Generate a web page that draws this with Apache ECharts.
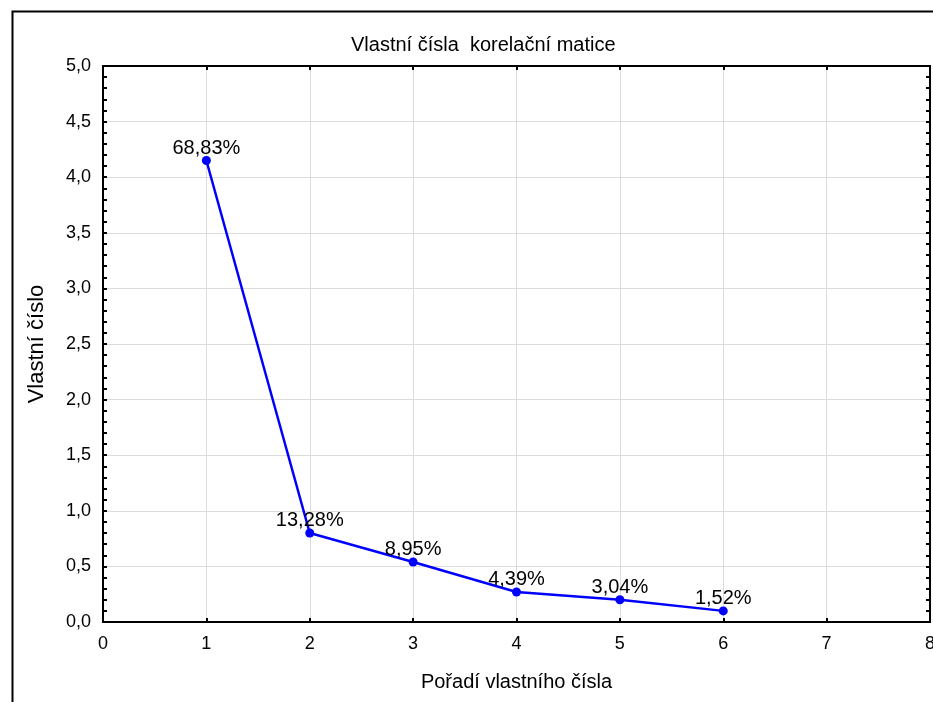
<!DOCTYPE html>
<html>
<head>
<meta charset="utf-8">
<script src="https://cdn.jsdelivr.net/npm/echarts@6/dist/echarts.min.js"></script>
<style>html,body{margin:0;padding:0;background:#fff}#c{width:933px;height:702px}</style>
</head>
<body>
<div id="c"></div>
<script>
const xValues = [1, 2, 3, 4, 5, 6];
const eigenValues = [4.15, 0.80, 0.54, 0.27, 0.20, 0.10];
const percentLabels = ['68,83%', '13,28%', '8,95%', '4,39%', '3,04%', '1,52%'];
const titleText = 'Vlastní čísla  korelační matice';
const xName = 'Pořadí vlastního čísla';
const yName = 'Vlastní číslo';

const FONT = 'Liberation Sans, Arial, sans-serif';
const chart = echarts.init(document.getElementById('c'));
const fmtY = v => v.toFixed(1).replace('.', ',');
const tickStyle = { color: '#000', width: 2 };
chart.setOption({
  animation: false,
  backgroundColor: '#fff',
  title: {
    text: titleText, left: 346, top: 30,
    textStyle: { fontFamily: FONT, fontSize: 20, fontWeight: 'normal', color: '#000' }
  },
  graphic: [{
    type: 'rect', shape: { x: 12.5, y: 11.5, width: 2000, height: 2000 },
    style: { fill: 'none', stroke: '#000', lineWidth: 2 }, silent: true, z: 0
  }],
  grid: {
    left: 103, right: 3, top: 66, bottom: 80, outerBoundsMode: 'none', containLabel: false,
    show: true, borderColor: '#000', borderWidth: 2, backgroundColor: 'transparent'
  },
  xAxis: [{
    type: 'value', min: 0, max: 8, interval: 1, position: 'bottom',
    name: xName, nameLocation: 'middle', nameGap: 50,
    nameTextStyle: { fontFamily: FONT, fontSize: 20, color: '#000' },
    axisLine: { show: true, onZero: false, lineStyle: { color: '#000', width: 2 } },
    axisTick: { show: true, inside: true, length: 4, lineStyle: tickStyle },
    axisLabel: { fontFamily: FONT, fontSize: 18, color: '#000', margin: 13 },
    splitLine: { show: true, lineStyle: { color: '#dcdcdc', width: 1 } }
  }, {
    type: 'value', min: 0, max: 8, interval: 1, position: 'top',
    axisLine: { show: true, onZero: false, lineStyle: { color: '#000', width: 2 } },
    axisTick: { show: true, inside: true, length: 4, lineStyle: tickStyle },
    axisLabel: { show: false }, splitLine: { show: false }
  }],
  yAxis: [{
    type: 'value', min: 0, max: 5, interval: 0.5, position: 'left',
    name: yName, nameLocation: 'middle', nameGap: 55, nameRotate: 90,
    nameTextStyle: { fontFamily: FONT, fontSize: 22, color: '#000' },
    axisLine: { show: true, onZero: false, lineStyle: { color: '#000', width: 2 } },
    axisTick: { show: true, inside: true, length: 4, lineStyle: tickStyle },
    minorTick: { show: true, splitNumber: 5, length: 4, lineStyle: tickStyle },
    axisLabel: { fontFamily: FONT, fontSize: 18, color: '#000', margin: 12, formatter: fmtY },
    splitLine: { show: true, lineStyle: { color: '#dcdcdc', width: 1 } }
  }, {
    type: 'value', min: 0, max: 5, interval: 0.5, position: 'right',
    axisLine: { show: true, onZero: false, lineStyle: { color: '#000', width: 2 } },
    axisTick: { show: true, inside: true, length: 4, lineStyle: tickStyle },
    minorTick: { show: true, splitNumber: 5, length: 4, lineStyle: tickStyle },
    axisLabel: { show: false }, splitLine: { show: false }
  }],
  series: [{
    type: 'line',
    data: xValues.map((x, i) => [x, eigenValues[i]]),
    symbol: 'circle', symbolSize: 9,
    lineStyle: { color: '#0000ff', width: 2.5 },
    itemStyle: { color: '#0000ff' },
    label: {
      show: true, position: 'top', distance: -2,
      fontFamily: FONT, fontSize: 20, color: '#000',
      formatter: p => percentLabels[p.dataIndex]
    }
  }]
});
</script>
</body>
</html>
